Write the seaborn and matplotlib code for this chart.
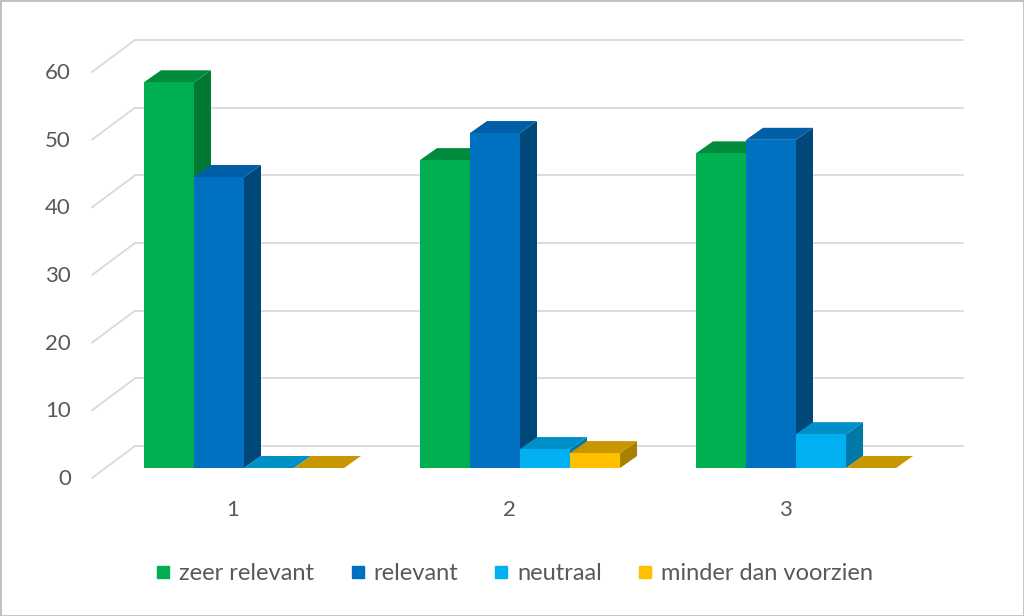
import matplotlib
matplotlib.use("Agg")
import matplotlib.pyplot as plt
from matplotlib.patches import Polygon, Rectangle
from matplotlib.lines import Line2D
import pandas as pd
import seaborn as sns

# data (percent per question)
categories = ["1", "2", "3"]
series = ["zeer relevant", "relevant", "neutraal", "minder dan voorzien"]
zeer_relevant = [57, 45.5, 46.5]
relevant = [43, 49.5, 48.5]
neutraal = [0, 2.8, 5]
minder_dan_voorzien = [0, 2.2, 0]
yticks = [0, 10, 20, 30, 40, 50, 60]

front_colors = ["#00B050", "#0070C0", "#00B0F0", "#FFC000"]
top_colors = ["#008C3C", "#005EA6", "#0090C8", "#C89600"]
side_colors = ["#007A33", "#00477A", "#0079A8", "#A88000"]
grid_color = "#D9D9D9"
text_color = "#595959"

values = [zeer_relevant, relevant, neutraal, minder_dan_voorzien]
df = pd.DataFrame({
    "vraag": [c for s in values for c in categories],
    "oordeel": [name for name, s in zip(series, values) for _ in s],
    "pct": [v for s in values for v in s],
})

sns.set_theme(style="white")
plt.rcParams["font.family"] = ["Lato", "DejaVu Sans"]

fig = plt.figure(figsize=(10.24, 6.16), dpi=100)
ax = fig.add_axes([106 / 1024, 1 - 468 / 616, 828 / 1024, 406 / 616])

sns.barplot(data=df, x="vraag", y="pct", hue="oordeel", hue_order=series,
            palette=front_colors, width=0.725, gap=0, saturation=1,
            linewidth=0, legend=False, ax=ax)
ax.set_xlim(-0.5, 2.5)
ax.set_ylim(0, 60)
ax.axis("off")

# pixel -> data scale of the bar plane
bb = ax.get_window_extent()
sx = bb.width / 3.0
sy = bb.height / 60.0

def px(dx, dy):
    # dx right, dy up, in pixels -> data units
    return dx / sx, dy / sy

# 3d offsets (pixels)
bar_d = px(17, 12)
back_d = px(29, 22)
front_d = px(-14, -10)

# back wall gridlines and side wall diagonals
x0, x1 = ax.get_xlim()
for t in yticks:
    ax.add_line(Line2D([x0 + back_d[0], x1 + back_d[0]], [t + back_d[1]] * 2,
                       color=grid_color, lw=1.3, zorder=1, clip_on=False))
    ax.add_line(Line2D([x0 + front_d[0], x0 + back_d[0]],
                       [t + front_d[1], t + back_d[1]],
                       color=grid_color, lw=1.3, zorder=1, clip_on=False))
    lx, ly = px(-21, -1)
    ax.text(x0 + front_d[0] + lx, t + front_d[1] + ly, str(t),
            ha="right", va="center", fontsize=16, color=text_color)

# 3d faces for each bar
bars = []
for k, cont in enumerate(ax.containers):
    for p in cont.patches:
        bars.append((p.get_x(), k, p))
bars.sort(key=lambda b: b[0])
dx, dy = bar_d
for i, (x, k, p) in enumerate(bars):
    w, h = p.get_width(), p.get_height()
    z = 3 + i * 0.01
    side = Polygon([(x + w, 0), (x + w, h), (x + w + dx, h + dy), (x + w + dx, dy)],
                   closed=True, facecolor=side_colors[k], edgecolor="none", zorder=z)
    top = Polygon([(x, h), (x + w, h), (x + w + dx, h + dy), (x + dx, h + dy)],
                  closed=True, facecolor=top_colors[k], edgecolor="none", zorder=z + 0.001)
    ax.add_patch(side)
    ax.add_patch(top)
    p.set_zorder(z + 0.005)
    for a in (side, top, p):
        a.set_clip_on(False)

# category labels
ox, oy = px(-11, -42)
for i, c in enumerate(categories):
    ax.text(i + ox, oy, c, ha="center", va="center", fontsize=16, color=text_color)

handles = [Line2D([], [], marker="s", ls="", markersize=9, markerfacecolor=c,
                  markeredgecolor=c) for c in front_colors]
fig.legend(handles, series, loc="center", bbox_to_anchor=(515 / 1024, 1 - 574 / 616),
           ncol=4, frameon=False, fontsize=17, labelcolor=text_color,
           handletextpad=0.4, columnspacing=1.55, handlelength=0.55)

fig.add_artist(Rectangle((0, 0), 1, 1, transform=fig.transFigure, fill=False,
                         edgecolor="#BFBFBF", lw=2))

fig.savefig("out.png", dpi=100)
